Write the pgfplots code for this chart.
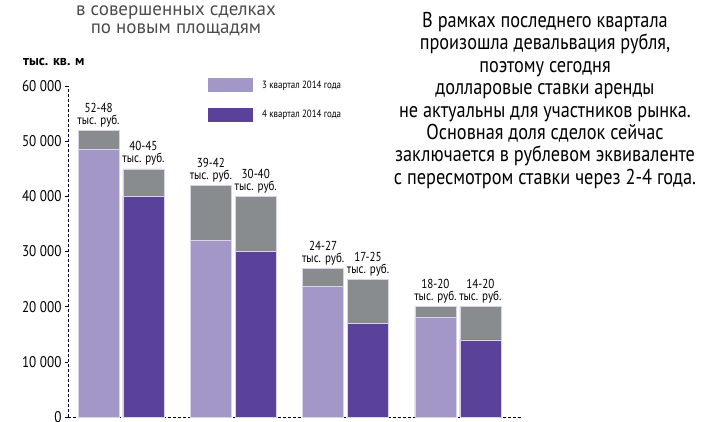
\documentclass[border=0pt]{standalone}
\usepackage{fontspec}
\setmainfont[FakeStretch=0.85]{PT Sans}
\newfontfamily\titlefont{PT Sans}
\usepackage{pgfplots}
\pgfplotsset{compat=1.18}
\definecolor{lightp}{HTML}{A397C8}
\definecolor{darkp}{HTML}{5A4199}
\definecolor{grayb}{HTML}{888C8F}
\definecolor{edge}{HTML}{D8D3E8}
\begin{document}
\begin{tikzpicture}[x=1pt,y=1pt]
\useasboundingbox (0,0) rectangle (728,421);
\begin{axis}[
  at={(68pt,4pt)}, anchor=south west,
  scale only axis, width=455pt, height=331pt,
  xmin=-0.472, xmax=3.58, ymin=0, ymax=60000,
  axis x line=bottom, axis y line=left,
  axis line style={-, densely dashed, line width=0.6pt},
  xtick=\empty,
  ytick={0,10000,20000,30000,40000,50000,60000},
  scaled y ticks=false,
  /pgf/number format/assume math mode=true,
  yticklabel style={/pgf/number format/1000 sep={\ }, font=\fontsize{15.5}{16}\selectfont},
  tick align=outside, major tick length=3pt,
  y tick style={black, line width=0.5pt},
  clip=false,
  legend style={at={(axis description cs:0.3077,1.024)}, anchor=north west, draw=none, fill=none,
    inner sep=0pt, row sep=15.5pt, font=\fontsize{10.5}{12}\selectfont, legend cell align=left},
  every node near coord/.style={align=center, font=\fontsize{13}{12}\selectfont, anchor=south, inner sep=3pt, black},
]
% gray tops (totals)
\addplot[ybar, bar width=0.365, bar shift=-0.2, fill=grayb, draw=edge, line width=0.5pt, forget plot,
  point meta=explicit symbolic, nodes near coords, nodes near coords style={xshift=-22.46pt}]
  coordinates {(0,52000)[52-48\\тыс. руб.] (1,42000)[39-42\\тыс. руб.] (2,27000)[24-27\\тыс. руб.] (3,20000)[18-20\\тыс. руб.]};
\addplot[ybar, bar width=0.365, bar shift=0.2, fill=grayb, draw=edge, line width=0.5pt, forget plot,
  point meta=explicit symbolic, nodes near coords, nodes near coords style={xshift=22.46pt}]
  coordinates {(0,45000)[40-45\\тыс. руб.] (1,40000)[30-40\\тыс. руб.] (2,25000)[17-25\\тыс. руб.] (3,20000)[14-20\\тыс. руб.]};
% coloured parts
\addplot[ybar, bar width=0.365, bar shift=-0.2, fill=lightp, draw=edge, line width=0.5pt,
  legend image code/.code={\fill[lightp, draw=none] (0pt,-7pt) rectangle (45pt,7pt); \path[draw=none, fill=none] (45pt,0pt) -- (52pt,0pt);}]
  coordinates {(0,48500) (1,32000) (2,23700) (3,18000)};
\addlegendentry{3 квартал 2014 года}
\addplot[ybar, bar width=0.365, bar shift=0.2, fill=darkp, draw=edge, line width=0.5pt,
  legend image code/.code={\fill[darkp, draw=none] (0pt,-7pt) rectangle (45pt,7pt); \path[draw=none, fill=none] (45pt,0pt) -- (52pt,0pt);}]
  coordinates {(0,40000) (1,30000) (2,17000) (3,14000)};
\addlegendentry{4 квартал 2014 года}
\end{axis}
\node[anchor=base west, font=\titlefont\bfseries\fontsize{14}{14}\selectfont, inner sep=0pt] at (23,355) {тыс. кв. м};
\node[anchor=base, font=\titlefont\fontsize{19}{19}\selectfont, text=black!70, inner sep=0pt] at (176,405.5) {в совершенных сделках};
\node[anchor=base, font=\titlefont\fontsize{19}{19}\selectfont, text=black!70, inner sep=0pt] at (176,387.3) {по новым площадям};
\node[anchor=north, align=center, font=\fontsize{21.5}{22.4}\selectfont, inner sep=0pt] at (545,409) {В рамках последнего квартала\\произошла девальвация рубля,\\поэтому сегодня\\долларовые ставки аренды\\не актуальны для участников рынка.\\Основная доля сделок сейчас\\заключается в рублевом эквиваленте\\с пересмотром ставки через 2-4 года.};
\end{tikzpicture}
\end{document}
